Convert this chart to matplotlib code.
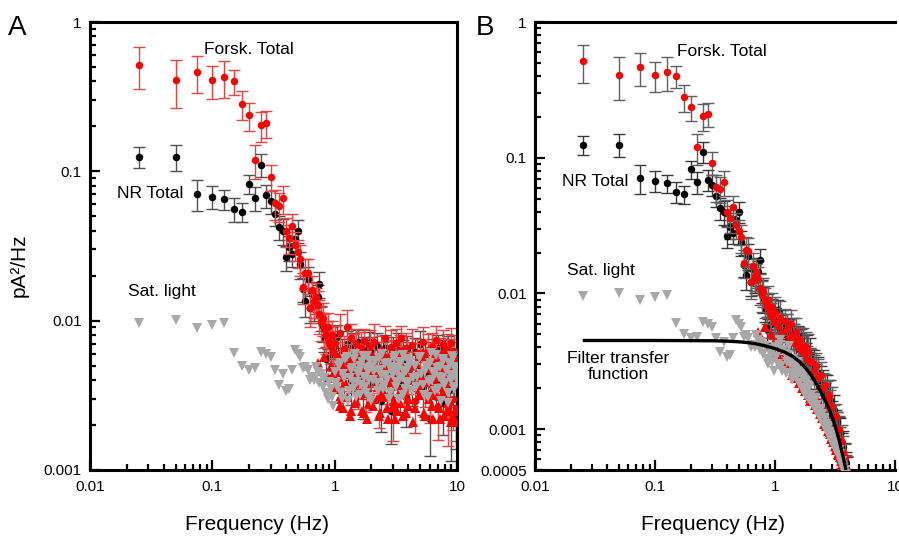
import numpy as np
import matplotlib
matplotlib.use("Agg")
import matplotlib.pyplot as plt
from matplotlib.ticker import FixedLocator, FixedFormatter, NullFormatter, LogLocator

plt.rcParams['font.family'] = ['Liberation Sans', 'DejaVu Sans']

# ---- data ----
# low-frequency part (0.025 Hz spacing), same in both panels
freq_lo = [0.025, 0.05, 0.075, 0.1, 0.125, 0.15, 0.175, 0.2, 0.225, 0.25,
           0.275, 0.3, 0.325, 0.35, 0.375, 0.4, 0.425, 0.45, 0.475, 0.5,
           0.525, 0.55, 0.575, 0.6, 0.625, 0.65, 0.675, 0.7, 0.725, 0.75,
           0.775, 0.8, 0.825, 0.85, 0.875, 0.9, 0.925, 0.95, 0.975]

forsk_lo = [0.515, 0.41, 0.465, 0.407, 0.43, 0.40, 0.281, 0.237, 0.119, 0.203,
            0.21, 0.092, 0.061, 0.059, 0.066, 0.040, 0.036, 0.043, 0.032, 0.0287,
            0.0259, 0.0169, 0.021, 0.0207, 0.0121, 0.016, 0.0135, 0.0145, 0.0127, 0.011,
            0.0098, 0.0105, 0.0088, 0.0080, 0.0090, 0.0072, 0.0068, 0.0080, 0.0062]
forsk_lo_err = [0.16, 0.145, 0.13, 0.10, 0.12, 0.076, 0.062, 0.05, 0.03, 0.045,
                0.042, 0.018, 0.014, 0.013, 0.014, 0.009, 0.008, 0.009, 0.007, 0.006,
                0.006, 0.004, 0.005, 0.005, 0.003, 0.004, 0.003, 0.0035, 0.003, 0.0028,
                0.0025, 0.0026, 0.0022, 0.002, 0.0023, 0.0018, 0.0017, 0.002, 0.0016]

nr_lo = [0.125, 0.125, 0.071, 0.0676, 0.065, 0.056, 0.0536, 0.082, 0.066, 0.111,
         0.069, 0.063, 0.052, 0.0426, 0.040, 0.0266, 0.031, 0.028, 0.035, 0.040,
         0.024, 0.0163, 0.0136, 0.019, 0.0121, 0.0152, 0.0125, 0.0135, 0.0144, 0.0176,
         0.0105, 0.0092, 0.0078, 0.0055, 0.0082, 0.0070, 0.0060, 0.0075, 0.0066]
nr_lo_err = [0.02, 0.024, 0.017, 0.012, 0.01, 0.01, 0.008, 0.012, 0.012, 0.02,
             0.012, 0.011, 0.009, 0.008, 0.008, 0.005, 0.006, 0.005, 0.006, 0.007,
             0.005, 0.003, 0.003, 0.004, 0.0025, 0.003, 0.0025, 0.003, 0.003, 0.0035,
             0.002, 0.002, 0.0016, 0.0012, 0.0017, 0.0015, 0.0013, 0.0016, 0.0014]

sat_lo = [0.0096, 0.0101, 0.0089, 0.0094, 0.0097, 0.0061, 0.0050, 0.0047, 0.0048, 0.0062,
          0.0060, 0.0057, 0.0047, 0.0037, 0.0044, 0.0034, 0.0035, 0.0047, 0.0064, 0.0060,
          0.0057, 0.0048, 0.0049, 0.0047, 0.0040, 0.0042, 0.0040, 0.0049, 0.0045, 0.0038,
          0.0044, 0.0036, 0.0041, 0.0033, 0.0030, 0.0039, 0.0035, 0.0031, 0.0027]

freq_rt_lo = [0.725, 0.775, 0.825, 0.875, 0.925, 0.975]
forsk_sat_lo = [0.0052, 0.0046, 0.0057, 0.0041, 0.0050, 0.0044]

# high-frequency part
freq_hi = [1.0, 1.05, 1.1, 1.15, 1.2, 1.25, 1.3, 1.35, 1.4, 1.45,
           1.5, 1.55, 1.6, 1.65, 1.7, 1.75, 1.8, 1.85, 1.9, 1.95,
           2.0, 2.1, 2.2, 2.3, 2.4, 2.5, 2.6, 2.7, 2.8, 2.9,
           3.0, 3.1, 3.2, 3.3, 3.4, 3.5, 3.6, 3.7, 3.8, 3.9,
           4.0, 4.25, 4.5, 4.75, 5.0, 5.25, 5.5, 5.75, 6.0, 6.25,
           6.5, 6.75, 7.0, 7.25, 7.5, 7.75, 8.0, 8.25, 8.5, 8.75,
           9.0, 9.25, 9.5, 9.75, 10.0]
freq_hi2 = [1.025, 1.075, 1.125, 1.175, 1.225, 1.275, 1.325, 1.375, 1.425, 1.475,
            1.525, 1.575, 1.625, 1.675, 1.725, 1.775, 1.825, 1.875, 1.925, 1.975,
            2.05, 2.15, 2.25, 2.35, 2.45, 2.55, 2.65, 2.75, 2.85, 2.95,
            3.05, 3.15, 3.25, 3.35, 3.45, 3.55, 3.65, 3.75, 3.85, 3.95,
            4.125, 4.375, 4.625, 4.875, 5.125, 5.375, 5.625, 5.875, 6.125, 6.375,
            6.625, 6.875, 7.125, 7.375, 7.625, 7.875, 8.125, 8.375, 8.625, 8.875,
            9.125, 9.375, 9.625, 9.875]

# panel A, 1-10 Hz
forsk_hi = [0.0071, 0.0058, 0.0083, 0.0049, 0.0065, 0.0091, 0.0052, 0.0076, 0.0044, 0.0062,
            0.0070, 0.0039, 0.0058, 0.0066, 0.0047, 0.0073, 0.0035, 0.0061, 0.0054, 0.0068,
            0.0042, 0.0072, 0.0057, 0.0031, 0.0064, 0.0049, 0.0076, 0.0055, 0.0038, 0.0067,
            0.0026, 0.0059, 0.0071, 0.0045, 0.0063, 0.0076, 0.0050, 0.0034, 0.0066, 0.0058,
            0.0047, 0.0069, 0.0029, 0.0061, 0.0055, 0.0072, 0.0040, 0.0064, 0.0033, 0.0068,
            0.0052, 0.0074, 0.0027, 0.0060, 0.0046, 0.0070, 0.0036, 0.0065, 0.0025, 0.0058,
            0.0071, 0.0030, 0.0063, 0.0026, 0.0055]
forsk_hi_rel = [0.30, 0.24, 0.33, 0.27, 0.21, 0.29, 0.35, 0.25, 0.22, 0.31,
                0.26, 0.34, 0.23, 0.28, 0.32, 0.20, 0.30, 0.25, 0.36, 0.27,
                0.22, 0.31, 0.26, 0.38, 0.24, 0.29, 0.21, 0.33, 0.27, 0.30,
                0.40, 0.25, 0.23, 0.32, 0.28, 0.22, 0.35, 0.30, 0.26, 0.24,
                0.31, 0.27, 0.39, 0.23, 0.29, 0.25, 0.34, 0.28, 0.37, 0.22,
                0.30, 0.24, 0.41, 0.27, 0.32, 0.23, 0.36, 0.26, 0.42, 0.29,
                0.25, 0.38, 0.28, 0.40, 0.31]

nr_hi = [0.0066, 0.0078, 0.0052, 0.0061, 0.0045, 0.0070, 0.0058, 0.0040, 0.0067, 0.0055,
         0.0049, 0.0072, 0.0043, 0.0060, 0.0034, 0.0064, 0.0056, 0.0047, 0.0071, 0.0039,
         0.0062, 0.0050, 0.0068, 0.0044, 0.0029, 0.0058, 0.0066, 0.0041, 0.0054, 0.0025,
         0.0063, 0.0048, 0.0057, 0.0069, 0.0037, 0.0052, 0.0060, 0.0044, 0.0031, 0.0065,
         0.0053, 0.0040, 0.0062, 0.0048, 0.0070, 0.0036, 0.0057, 0.0045, 0.0022, 0.0061,
         0.0050, 0.0039, 0.0066, 0.0043, 0.0056, 0.0028, 0.0059, 0.0047, 0.0064, 0.0035,
         0.0021, 0.0052, 0.0044, 0.0024, 0.0049]
nr_hi_rel = [0.22, 0.19, 0.27, 0.24, 0.30, 0.21, 0.25, 0.32, 0.23, 0.26,
             0.29, 0.20, 0.31, 0.24, 0.35, 0.22, 0.27, 0.30, 0.19, 0.33,
             0.25, 0.28, 0.21, 0.31, 0.38, 0.24, 0.22, 0.33, 0.27, 0.40,
             0.23, 0.29, 0.26, 0.20, 0.34, 0.28, 0.24, 0.31, 0.37, 0.22,
             0.27, 0.33, 0.23, 0.30, 0.21, 0.35, 0.26, 0.31, 0.44, 0.24,
             0.28, 0.34, 0.22, 0.32, 0.26, 0.39, 0.25, 0.30, 0.23, 0.36,
             0.45, 0.27, 0.31, 0.42, 0.29]

sat_hi = [0.0045, 0.0036, 0.0052, 0.0030, 0.0041, 0.0057, 0.0034, 0.0047, 0.0039, 0.0055,
          0.0031, 0.0044, 0.0050, 0.0037, 0.0058, 0.0042, 0.0033, 0.0048, 0.0040, 0.0054,
          0.0029, 0.0046, 0.0038, 0.0056, 0.0043, 0.0035, 0.0051, 0.0040, 0.0030, 0.0049,
          0.0044, 0.0058, 0.0036, 0.0047, 0.0041, 0.0053, 0.0032, 0.0045, 0.0039, 0.0055,
          0.0048, 0.0034, 0.0050, 0.0042, 0.0057, 0.0037, 0.0046, 0.0031, 0.0052, 0.0040,
          0.0044, 0.0059, 0.0035, 0.0049, 0.0041, 0.0054, 0.0038, 0.0047, 0.0028, 0.0051,
          0.0043, 0.0056, 0.0036, 0.0046, 0.0040]
sat_hi2 = [0.0038, 0.0050, 0.0033, 0.0044, 0.0055, 0.0029, 0.0041, 0.0048, 0.0035, 0.0060,
           0.0039, 0.0046, 0.0032, 0.0053, 0.0042, 0.0036, 0.0058, 0.0045, 0.0031, 0.0049,
           0.0040, 0.0054, 0.0034, 0.0047, 0.0060, 0.0037, 0.0043, 0.0052, 0.0033, 0.0045,
           0.0056, 0.0039, 0.0048, 0.0030, 0.0051, 0.0042, 0.0059, 0.0035, 0.0046, 0.0038,
           0.0053, 0.0041, 0.0036, 0.0057, 0.0044, 0.0032, 0.0050, 0.0039, 0.0061, 0.0045,
           0.0034, 0.0048, 0.0042, 0.0029, 0.0055, 0.0037, 0.0047, 0.0033, 0.0052, 0.0040,
           0.0058, 0.0035, 0.0049, 0.0043]

forsk_sat_hi = [0.0035, 0.0048, 0.0027, 0.0041, 0.0056, 0.0031, 0.0044, 0.0025, 0.0052, 0.0038,
                0.0029, 0.0046, 0.0060, 0.0033, 0.0040, 0.0024, 0.0050, 0.0036, 0.0028, 0.0043,
                0.0055, 0.0030, 0.0039, 0.0023, 0.0047, 0.0034, 0.0058, 0.0026, 0.0042, 0.0032,
                0.0049, 0.0022, 0.0037, 0.0053, 0.0028, 0.0045, 0.0033, 0.0061, 0.0024, 0.0040,
                0.0030, 0.0051, 0.0026, 0.0044, 0.0035, 0.0062, 0.0023, 0.0039, 0.0048, 0.0027,
                0.0057, 0.0032, 0.0042, 0.0022, 0.0050, 0.0036, 0.0064, 0.0025, 0.0041, 0.0029,
                0.0054, 0.0023, 0.0046, 0.0021, 0.0038]
forsk_sat_hi2 = [0.0045, 0.0030, 0.0055, 0.0026, 0.0039, 0.0049, 0.0023, 0.0035, 0.0058, 0.0028,
                 0.0042, 0.0032, 0.0053, 0.0025, 0.0046, 0.0037, 0.0022, 0.0051, 0.0033, 0.0060,
                 0.0027, 0.0044, 0.0036, 0.0024, 0.0057, 0.0031, 0.0048, 0.0022, 0.0040, 0.0063,
                 0.0029, 0.0043, 0.0025, 0.0054, 0.0034, 0.0047, 0.0023, 0.0038, 0.0059, 0.0027,
                 0.0045, 0.0021, 0.0052, 0.0032, 0.0041, 0.0024, 0.0056, 0.0030, 0.0044, 0.0022,
                 0.0037, 0.0061, 0.0026, 0.0049, 0.0033, 0.0023, 0.0053, 0.0028, 0.0046, 0.0021,
                 0.0039, 0.0057, 0.0025, 0.0043]

# panel B, 1-4 Hz (after the filter)
nb = 41
nb2 = 40
forsk_hi_b = [0.0072, 0.0058, 0.0066, 0.0051, 0.0063, 0.0055, 0.0047, 0.0060, 0.0049, 0.0043,
              0.0052, 0.0040, 0.0046, 0.0038, 0.0042, 0.0036, 0.0040, 0.0033, 0.0037, 0.0031,
              0.0032, 0.0027, 0.0029, 0.0024, 0.0025, 0.0020, 0.0021, 0.0017, 0.0018, 0.0015,
              0.00145, 0.0012, 0.00125, 0.00102, 0.00098, 0.00085, 0.00080, 0.00068, 0.00062, 0.00052,
              0.00048]
nr_hi_b = [0.0064, 0.0075, 0.0055, 0.0061, 0.0050, 0.0058, 0.0052, 0.0045, 0.0054, 0.0047,
           0.0042, 0.0048, 0.0039, 0.0044, 0.0036, 0.0041, 0.0034, 0.0038, 0.0031, 0.0035,
           0.0029, 0.0030, 0.0025, 0.0026, 0.0021, 0.0022, 0.0018, 0.0019, 0.0016, 0.00165,
           0.0013, 0.00138, 0.0011, 0.00112, 0.00092, 0.00094, 0.00075, 0.00074, 0.00058, 0.00056,
           0.00049]
sat_hi_b = [0.0040, 0.0030, 0.0045, 0.0027, 0.0036, 0.0031, 0.0041, 0.0026, 0.0033, 0.0028,
            0.0024, 0.0031, 0.0022, 0.0027, 0.0020, 0.0025, 0.0019, 0.0023, 0.0017, 0.0021,
            0.0018, 0.0015, 0.0017, 0.0013, 0.0014, 0.0011, 0.0012, 0.00098, 0.00105, 0.00088,
            0.00092, 0.00078, 0.00080, 0.00068, 0.00070, 0.00060, 0.00058, 0.00052, 0.00050, 0.00046,
            0.00044]
sat_hi_b2 = [0.0034, 0.0042, 0.0029, 0.0038, 0.0026, 0.0035, 0.0030, 0.0023, 0.0032, 0.0026,
             0.0029, 0.0022, 0.0026, 0.0020, 0.0024, 0.0018, 0.0022, 0.0017, 0.0020, 0.0016,
             0.0016, 0.0014, 0.0015, 0.0012, 0.0013, 0.00105, 0.0011, 0.00092, 0.00096, 0.00082,
             0.00086, 0.00072, 0.00075, 0.00064, 0.00066, 0.00056, 0.00054, 0.00049, 0.00047, 0.00044]
forsk_sat_hi_b = [0.0036, 0.0044, 0.0031, 0.0039, 0.0032, 0.0029, 0.0036, 0.0031, 0.0027, 0.0032,
                  0.0028, 0.0024, 0.0029, 0.0023, 0.0025, 0.0021, 0.0023, 0.0019, 0.0021, 0.0017,
                  0.0017, 0.0018, 0.0015, 0.0016, 0.0013, 0.0014, 0.0012, 0.0011, 0.00105, 0.00096,
                  0.00088, 0.00090, 0.00077, 0.00078, 0.00067, 0.00068, 0.00058, 0.00057, 0.00052, 0.00050,
                  0.00047]
forsk_sat_hi_b2 = [0.0042, 0.0034, 0.0039, 0.0030, 0.0036, 0.0028, 0.0033, 0.0025, 0.0030, 0.0024,
                   0.0027, 0.0022, 0.0025, 0.0020, 0.0023, 0.0019, 0.0021, 0.0018, 0.0019, 0.0016,
                   0.0016, 0.0015, 0.0014, 0.0013, 0.0012, 0.0011, 0.00105, 0.00097, 0.00092, 0.00085,
                   0.00080, 0.00075, 0.00070, 0.00066, 0.00062, 0.00058, 0.00054, 0.00051, 0.00048, 0.00046]

# filter transfer function (panel B)
freq_filter = [0.025, 0.1, 0.2, 0.3, 0.4, 0.5, 0.6, 0.7, 0.8, 0.9, 1.0, 1.2, 1.4,
               1.6, 1.8, 2.0, 2.2, 2.4, 2.6, 2.8, 3.0, 3.2, 3.4, 3.6, 3.8, 3.9]
filter_vals = [0.00450, 0.00450, 0.00449, 0.00448, 0.00445, 0.00440, 0.00434, 0.00425,
               0.00414, 0.00403, 0.00392, 0.00370, 0.00344, 0.00314, 0.00282, 0.00250,
               0.00218, 0.00190, 0.00165, 0.00143, 0.00122, 0.00103, 0.00085, 0.00069,
               0.00056, 0.00050]

RED = '#ff0000'
GREY = '#a8a8a8'

fig = plt.figure(figsize=(8.99, 5.38), dpi=100)
axA = fig.add_axes([90 / 899, 68 / 538, 367 / 899, 448 / 538])
axB = fig.add_axes([535 / 899, 68 / 538, 360 / 899, 448 / 538])


def draw_panel(ax, fr_hi, f_hi, f_rel, n_hi, n_rel, s_hi, fs_hi, fr_hi2, s_hi2, fs_hi2,
               red_ecol, blk_ecol):
    ms_c = 5.4
    ms_t = 6.6
    f_all = freq_lo + fr_hi
    nr_all = nr_lo + n_hi
    nr_err = nr_lo_err + list(np.array(n_hi) * np.array(n_rel))
    fo_all = forsk_lo + f_hi
    fo_err = forsk_lo_err + list(np.array(f_hi) * np.array(f_rel))
    # error bars first, markers drawn separately
    ax.errorbar(f_all, nr_all, yerr=nr_err, fmt='none', ecolor=blk_ecol,
                elinewidth=1.0, capsize=4, capthick=1.0, zorder=1.5)
    ax.plot(f_all, nr_all, 'o', color='black', ms=ms_c, mew=0, ls='none', zorder=2)
    ax.errorbar(f_all, fo_all, yerr=fo_err, fmt='none', ecolor=red_ecol,
                elinewidth=1.0, capsize=4, capthick=1.0, zorder=2.5)
    ax.plot(f_all, fo_all, 'o', color=RED, ms=ms_c, mew=0, ls='none', zorder=3)
    ax.plot(freq_rt_lo + fr_hi + fr_hi2, forsk_sat_lo + fs_hi + fs_hi2, '^', color=RED,
            ms=ms_t, mew=0, ls='none', zorder=4)
    ax.plot(freq_lo + fr_hi + fr_hi2, sat_lo + s_hi + s_hi2, 'v', color=GREY,
            ms=ms_t, mew=0, ls='none', zorder=5)


draw_panel(axA, freq_hi, forsk_hi, forsk_hi_rel, nr_hi, nr_hi_rel, sat_hi, forsk_sat_hi,
           freq_hi2, sat_hi2, forsk_sat_hi2, '#ee4040', '#505050')
draw_panel(axB, freq_hi[:nb], forsk_hi_b, forsk_hi_rel[:nb], nr_hi_b, nr_hi_rel[:nb],
           sat_hi_b, forsk_sat_hi_b, freq_hi2[:nb2], sat_hi_b2, forsk_sat_hi_b2,
           '#606060', '#383838')
axB.plot(freq_filter, filter_vals, color='black', lw=2.4, zorder=6, solid_capstyle='butt')

for ax, ymin, yt in [(axA, 0.001, [0.001, 0.01, 0.1, 1]),
                     (axB, 0.0005, [0.0005, 0.001, 0.01, 0.1, 1])]:
    ax.set_xscale('log')
    ax.set_yscale('log')
    ax.set_xlim(0.01, 10)
    ax.set_ylim(ymin, 1)
    ax.xaxis.set_major_locator(FixedLocator([0.01, 0.1, 1, 10]))
    ax.xaxis.set_major_formatter(FixedFormatter(['0.01', '0.1', '1', '10']))
    ax.xaxis.set_minor_locator(LogLocator(base=10, subs=np.arange(2, 10)))
    ax.xaxis.set_minor_formatter(NullFormatter())
    ax.yaxis.set_major_locator(FixedLocator(yt))
    ax.yaxis.set_major_formatter(FixedFormatter(['%g' % v for v in yt]))
    ax.yaxis.set_minor_locator(LogLocator(base=10, subs=np.arange(2, 10)))
    ax.yaxis.set_minor_formatter(NullFormatter())
    ax.tick_params(which='both', direction='in', width=1.6, labelsize=11)
    ax.tick_params(which='major', length=7)
    ax.tick_params(which='minor', length=4.5)
    ax.tick_params(axis='x', pad=7)
    ax.tick_params(axis='y', pad=6)
    for sp in ax.spines.values():
        sp.set_linewidth(2.2)
axB.spines['right'].set_visible(False)
axB.tick_params(which='both', right=False)

ann = 12.5
axA.text(0.085, 0.65, 'Forsk. Total', fontsize=ann, va='center', ha='left')
axA.text(0.0166, 0.0714, 'NR Total', fontsize=ann, va='center', ha='left')
axA.text(0.0205, 0.0158, 'Sat. light', fontsize=ann, va='center', ha='left')
axB.text(0.153, 0.604, 'Forsk. Total', fontsize=ann, va='center', ha='left')
axB.text(0.0167, 0.0665, 'NR Total', fontsize=ann, va='center', ha='left')
axB.text(0.0184, 0.0147, 'Sat. light', fontsize=ann, va='center', ha='left')
axB.text(0.0495, 0.0029, 'Filter transfer\nfunction', fontsize=ann, va='center',
         ha='center', linespacing=1.05)

fig.text(8 / 899, 1 - 35 / 538, 'A', fontsize=20, va='baseline', ha='left')
fig.text(476 / 899, 1 - 35 / 538, 'B', fontsize=20, va='baseline', ha='left')
fig.text(257 / 899, 1 - 524 / 538, 'Frequency (Hz)', fontsize=15, va='center', ha='center')
fig.text(713 / 899, 1 - 524 / 538, 'Frequency (Hz)', fontsize=15, va='center', ha='center')
fig.text(19 / 899, 1 - 265 / 538, 'pA²/Hz', fontsize=15, va='center', ha='center',
         rotation=90)

fig.savefig('out.png', dpi=100)
